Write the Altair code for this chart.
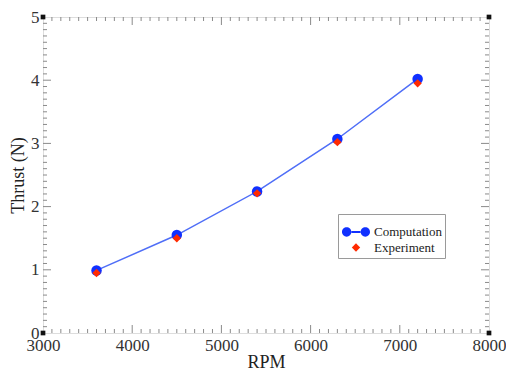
import altair as alt
import pandas as pd

rpm = [3600, 4500, 5400, 6300, 7200]
thrust_comp = [0.99, 1.55, 2.24, 3.07, 4.02]
thrust_exp = [0.95, 1.50, 2.21, 3.02, 3.95]
series_names = ["Computation", "Experiment"]
x_major = [3000, 4000, 5000, 6000, 7000, 8000]
y_major = [0, 1, 2, 3, 4, 5]

W, H = 446, 316
FONT = "Liberation Serif"
GREY = "#8a8a8a"
BLUE_LINE = "#4f6ef7"
BLUE = "#1030ff"
RED = "#ff2a00"

comp = pd.DataFrame({"rpm": rpm, "thrust": thrust_comp, "series": series_names[0]})
expd = pd.DataFrame({"rpm": rpm, "thrust": thrust_exp, "series": series_names[1]})

xs = alt.Scale(domain=[3000, 8000], nice=False, zero=False)
ys = alt.Scale(domain=[0, 5], nice=False)

x_minor = [v for v in range(3000, 8001, 100) if v % 1000 != 0]
y_minor = [round(v / 10, 1) for v in range(0, 51) if v % 10 != 0]

# legend symbol: two circles joined by a bar
r = 0.33
c = 0.66
t = 0.07
ri = c - r + 0.02
legend_path = (
    f"M{-c - r},0 a{r},{r} 0 1,0 {2*r},0 a{r},{r} 0 1,0 {-2*r},0 Z "
    f"M{c - r},0 a{r},{r} 0 1,0 {2*r},0 a{r},{r} 0 1,0 {-2*r},0 Z "
    f"M{-ri},{-t} L{ri},{-t} L{ri},{t} L{-ri},{t} Z"
)

color_scale = alt.Scale(domain=series_names, range=[BLUE, RED])
shape_scale = alt.Scale(domain=series_names, range=[legend_path, "diamond"])
size_scale = alt.Scale(domain=series_names, range=[800, 70])

legend = alt.Legend(
    title=None, orient="none", legendX=295, legendY=197,
    strokeColor="#9a9a9a", padding=3, labelFont=FONT, labelFontSize=13,
    labelColor="#222", rowPadding=0, symbolOpacity=1, labelOffset=3,
)

base_x = alt.X("rpm:Q", scale=xs, title="RPM",
               axis=alt.Axis(values=x_major, format="d", ticks=False, domain=False, grid=False,
                             labelFont=FONT, labelFontSize=17, labelColor="#333",
                             labelPadding=4, titleFont=FONT, titleFontSize=18,
                             titleFontWeight="normal", titleColor="#222", titlePadding=0,
                             labelFlush=False))
base_y = alt.Y("thrust:Q", scale=ys, title="Thrust (N)",
               axis=alt.Axis(values=y_major, format="d", ticks=False, domain=False, grid=False,
                             labelFont=FONT, labelFontSize=17, labelColor="#333",
                             labelPadding=4, titleFont=FONT, titleFontSize=18,
                             titleFontWeight="normal", titleColor="#222", titlePadding=3,
                             labelFlush=False))

line = alt.Chart(comp).mark_line(color=BLUE_LINE, strokeWidth=1.5).encode(x=base_x, y=base_y)

circles = alt.Chart(comp).mark_circle(opacity=1).encode(
    x="rpm:Q", y="thrust:Q",
    color=alt.Color("series:N", scale=color_scale, legend=legend),
    size=alt.value(110),
)

diamonds = alt.Chart(expd).mark_point(filled=True, opacity=1).encode(
    x="rpm:Q", y="thrust:Q",
    color=alt.Color("series:N", scale=color_scale, legend=legend),
    shape=alt.Shape("series:N", scale=shape_scale, legend=legend),
    size=alt.Size("series:N", scale=size_scale, legend=legend),
)

xminor_df = pd.DataFrame({"rpm": x_minor})
xmajor_df = pd.DataFrame({"rpm": x_major[1:-1]})
yminor_df = pd.DataFrame({"thrust": y_minor})
ymajor_df = pd.DataFrame({"thrust": y_major[1:-1]})

tick_layers = []
for df, L in [(xminor_df, 4), (xmajor_df, 8)]:
    tick_layers.append(alt.Chart(df).mark_rule(color=GREY, strokeWidth=1).encode(
        x="rpm:Q", y=alt.value(H), y2=alt.value(H - L)))
    tick_layers.append(alt.Chart(df).mark_rule(color=GREY, strokeWidth=1).encode(
        x="rpm:Q", y=alt.value(0), y2=alt.value(L)))
for df, L in [(yminor_df, 4), (ymajor_df, 8)]:
    tick_layers.append(alt.Chart(df).mark_rule(color=GREY, strokeWidth=1).encode(
        y="thrust:Q", x=alt.value(0), x2=alt.value(L)))
    tick_layers.append(alt.Chart(df).mark_rule(color=GREY, strokeWidth=1).encode(
        y="thrust:Q", x=alt.value(W), x2=alt.value(W - L)))

corners = pd.DataFrame({"rpm": [3000, 8000, 3000, 8000], "thrust": [0, 0, 5, 5]})
corner_marks = alt.Chart(corners).mark_square(color="#111", opacity=1, size=22).encode(
    x="rpm:Q", y="thrust:Q")

chart = alt.layer(line, *tick_layers, circles, diamonds, corner_marks).properties(
    width=W, height=H,
    padding={"left": 1, "top": 0, "right": 0, "bottom": 0},
).configure_view(stroke=GREY, strokeWidth=1).configure(background="white")

chart.save("out.html", embed_options={"renderer": "svg", "actions": False})
